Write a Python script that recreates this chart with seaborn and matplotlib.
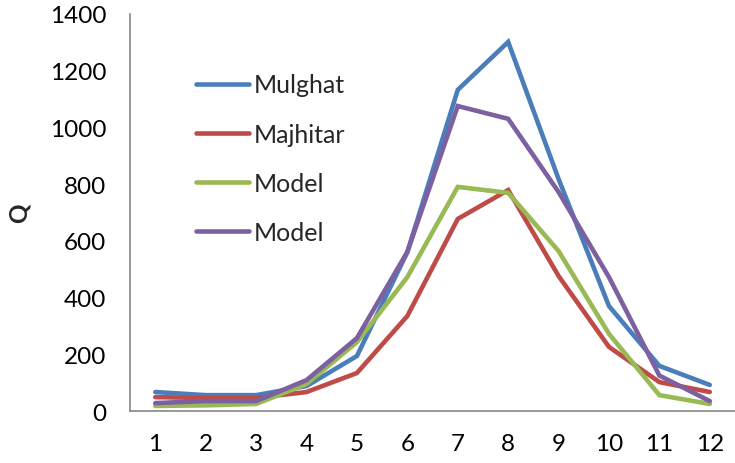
import matplotlib
matplotlib.use('Agg')
import matplotlib.pyplot as plt
import pandas as pd
import seaborn as sns

months = [1, 2, 3, 4, 5, 6, 7, 8, 9, 10, 11, 12]
mulghat = [67, 56, 56, 88, 194, 560, 1132, 1301, 818, 370, 159, 92]
majhitar = [49, 46, 46, 67, 134, 335, 677, 779, 476, 226, 102, 67]
model_a = [18, 20, 25, 95, 243, 472, 790, 769, 564, 272, 56, 25]
model_b = [28, 35, 35, 109, 257, 561, 1075, 1030, 772, 472, 125, 35]

series = [
	('Mulghat', mulghat, '#4A7EBB'),
	('Majhitar', majhitar, '#BE4B48'),
	('Model', model_a, '#98B954'),
	('Model', model_b, '#7D60A0'),
]

sns.set_style('white')
plt.rcParams['font.family'] = ['Lato', 'DejaVu Sans']

fig = plt.figure(figsize=(7.35, 4.64), dpi=100)
ax = fig.add_axes([0.177, 0.112, 0.823, 0.856])

for name, values, color in series:
	data = pd.DataFrame({'month': months, 'Q': values})
	sns.lineplot(data=data, x='month', y='Q', color=color, linewidth=3.3,
		label=name, ax=ax, solid_capstyle='round', solid_joinstyle='miter')

ax.set_xlim(0.5, 12.5)
ax.set_ylim(0, 1400)
ax.set_xticks(months)
ax.set_yticks(range(0, 1401, 200))
ax.tick_params(axis='both', labelsize=17.5, length=0, colors='black')
ax.tick_params(axis='y', pad=17)
ax.tick_params(axis='x', pad=16)
ax.set_xlabel('')
ax.set_ylabel('Q', fontsize=17.5, fontweight='bold', labelpad=14)

for side in ['top', 'right']:
	ax.spines[side].set_visible(False)
for side in ['left', 'bottom']:
	ax.spines[side].set_color('#868686')
	ax.spines[side].set_linewidth(1.2)

ax.legend(loc='upper left', bbox_to_anchor=(0.109, 0.85), frameon=False,
	fontsize=18, handlelength=2.1, handletextpad=0.2, labelspacing=1.05,
	borderpad=0, borderaxespad=0)

fig.savefig('out.png', dpi=100)
